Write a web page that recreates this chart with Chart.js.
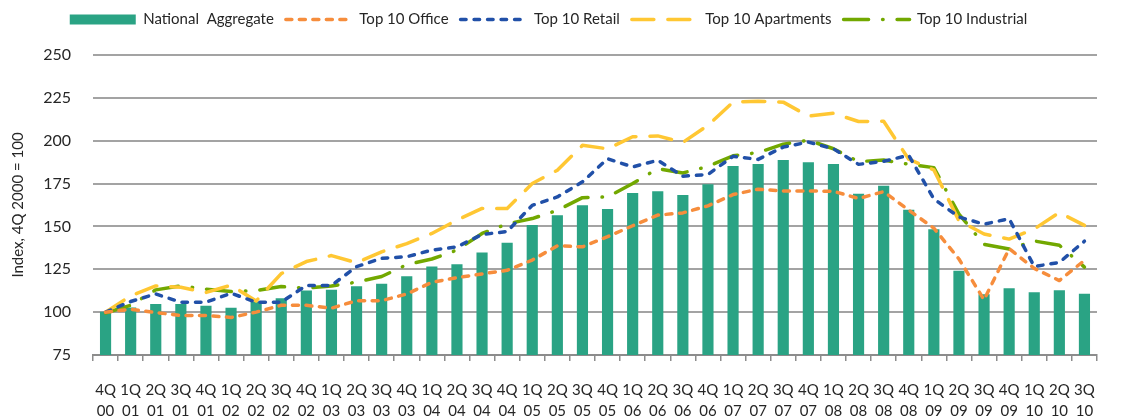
<!DOCTYPE html>
<html>
<head>
<meta charset="utf-8">
<script src="https://cdn.jsdelivr.net/npm/chart.js@4.4.0/dist/chart.umd.min.js"></script>
<style>
  html, body { margin: 0; padding: 0; background: #fff; }
</style>
</head>
<body>
<canvas id="chart" width="1128" height="420"></canvas>
<script>
// quarters, 4Q 2000 .. 3Q 2010
var quarterLabels = [
    ['4Q', '00'],
    ['1Q', '01'], ['2Q', '01'], ['3Q', '01'], ['4Q', '01'],
    ['1Q', '02'], ['2Q', '02'], ['3Q', '02'], ['4Q', '02'],
    ['1Q', '03'], ['2Q', '03'], ['3Q', '03'], ['4Q', '03'],
    ['1Q', '04'], ['2Q', '04'], ['3Q', '04'], ['4Q', '04'],
    ['1Q', '05'], ['2Q', '05'], ['3Q', '05'], ['4Q', '05'],
    ['1Q', '06'], ['2Q', '06'], ['3Q', '06'], ['4Q', '06'],
    ['1Q', '07'], ['2Q', '07'], ['3Q', '07'], ['4Q', '07'],
    ['1Q', '08'], ['2Q', '08'], ['3Q', '08'], ['4Q', '08'],
    ['1Q', '09'], ['2Q', '09'], ['3Q', '09'], ['4Q', '09'],
    ['1Q', '10'], ['2Q', '10'], ['3Q', '10']
];

var nationalAggregate = [100, 102.5, 104.6, 104.6, 103.5, 102.3, 106, 107.9, 112.5, 112.8,
    114.9, 116.3, 120.7, 126.5, 127.7, 134.6, 140.3, 150.6, 156.4, 162.2,
    160, 169.3, 170.4, 168.1, 174.4, 185.1, 186.2, 188.5, 187.3, 186.2,
    168.9, 173.6, 159.6, 148.1, 124, 110.2, 113.7, 111.4, 112.6, 110.5];

var top10Office = [100, 101.7, 99.8, 98, 98, 96.9, 100, 104, 104, 102.3,
    106.7, 106.7, 110.6, 117.4, 120.1, 122.3, 124.4, 130.4, 138.7, 138.1,
    144, 150.4, 156.6, 157.9, 162, 168.6, 171.7, 170.7, 170.7, 170.5,
    166.3, 170.3, 159.5, 149, 131, 107.2, 137, 125.5, 118.4, 130.2];

var top10Retail = [100, 106.2, 110.6, 105.8, 105.8, 111, 105.8, 105.8, 115.6, 115.6,
    126.5, 131.4, 132.3, 136.2, 138.1, 145.3, 147, 162.3, 167.2, 176,
    189.5, 184.7, 188.6, 179.3, 180.3, 190.9, 189.1, 196.3, 199.2, 195.3,
    186.2, 188, 191.5, 166, 155.5, 151.3, 154.5, 126.6, 129, 141.4];

var top10Apartments = [100, 109.5, 115.3, 114.5, 111.5, 115.7, 106.5, 122.5, 129.5, 133,
    128.8, 135.2, 140, 145.9, 153.7, 160.5, 160.5, 175, 182.8, 197.3,
    195.3, 202.3, 202.8, 199, 209, 222.5, 223, 222.5, 214.4, 216,
    211.2, 211.4, 189.2, 183, 153.3, 145.6, 142.6, 148.5, 158.1, 150.6];

var top10Industrial = [99.5, 104, 113, 115.3, 113.4, 112, 112.6, 114.9, 114, 115.3,
    117.5, 120.8, 127.7, 131, 136.2, 145.9, 151.5, 154.6, 159.4, 166.8,
    167.2, 175, 183.7, 181.2, 185, 191.2, 193.1, 198, 200.3, 195.3,
    187.8, 188.7, 186.3, 184.3, 157.2, 139.5, 136.8, 141.5, 139, 126.3];

var yTicks = [75, 100, 125, 150, 175, 200, 225, 250];

var fontFamily = 'Lato, "DejaVu Sans", sans-serif';
var textColor = '#262626';
var gridColor = '#a3a3a3';

// room between the legend and the plot
var legendGap = {
    id: 'legendGap',
    beforeInit: function (chart) {
        var fit = chart.legend.fit;
        chart.legend.fit = function () {
            fit.bind(chart.legend)();
            this.height += 18;
        };
    }
};

function lineSet(label, data, color, dash) {
    return {
        type: 'line',
        label: label,
        data: data,
        borderColor: color,
        backgroundColor: color,
        borderWidth: 3.5,
        borderDash: dash,
        borderCapStyle: 'round',
        borderJoinStyle: 'round',
        pointRadius: 0,
        tension: 0,
        fill: false,
        order: 0
    };
}

// legend entries: a filled box for the bars, dashed strokes for the lines
function legendLabels(chart) {
    return chart.data.datasets.map(function (ds, i) {
        var isLine = ds.type === 'line';
        return {
            text: ds.label,
            datasetIndex: i,
            hidden: false,
            pointStyle: isLine ? 'line' : 'rect',
            fillStyle: ds.backgroundColor,
            strokeStyle: ds.borderColor || ds.backgroundColor,
            lineWidth: isLine ? ds.borderWidth : 0,
            lineDash: isLine ? ds.borderDash : [],
            lineCap: 'round',
            fontColor: textColor
        };
    });
}

var ctx = document.getElementById('chart').getContext('2d');
new Chart(ctx, {
    type: 'bar',
    data: {
        labels: quarterLabels,
        datasets: [{
            label: 'National  Aggregate',
            data: nationalAggregate,
            backgroundColor: '#2aa384',
            borderWidth: 0,
            barThickness: 10.5,
            order: 1
        },
            lineSet('Top 10 Office', top10Office, '#f68d3c', [6, 7.5]),
            lineSet('Top 10 Retail', top10Retail, '#2150a8', [5.5, 8]),
            lineSet('Top 10 Apartments', top10Apartments, '#ffc733', [22, 14]),
            lineSet('Top 10 Industrial', top10Industrial, '#72a800', [25, 14, 0.5, 14])
        ]
    },
    options: {
        responsive: false,
        animation: false,
        layout: {padding: {left: 0, right: 31, top: 0, bottom: 0}},
        plugins: {
            tooltip: {enabled: false},
            legend: {
                position: 'top',
                labels: {
                    usePointStyle: true,
                    pointStyleWidth: 66,
                    boxHeight: 10,
                    padding: 12,
                    color: textColor,
                    font: {family: fontFamily, size: 15},
                    generateLabels: legendLabels
                }
            }
        },
        scales: {
            x: {
                offset: true,
                grid: {
                    offset: true,
                    drawOnChartArea: false,
                    drawTicks: true,
                    tickLength: 6,
                    color: '#8c8c8c',
                    lineWidth: 1.5
                },
                border: {display: true, color: '#8c8c8c', width: 2},
                ticks: {
                    autoSkip: false,
                    maxRotation: 0,
                    minRotation: 0,
                    padding: 19,
                    color: textColor,
                    font: {family: fontFamily, size: 15, lineHeight: 1.4}
                },
                afterFit: function (scale) { scale.height = 65; }
            },
            y: {
                min: 75,
                max: 250,
                afterBuildTicks: function (scale) {
                    scale.ticks = yTicks.map(function (v) { return {value: v}; });
                },
                grid: {color: gridColor, lineWidth: 2, drawTicks: false},
                border: {display: false},
                ticks: {
                    padding: 22,
                    color: textColor,
                    font: {family: fontFamily, size: 16}
                },
                title: {
                    display: true,
                    text: 'Index, 4Q 2000 = 100',
                    color: textColor,
                    font: {family: fontFamily, size: 15},
                    padding: {top: 9, bottom: 0}
                },
                afterFit: function (scale) { scale.width = 93; }
            }
        }
    },
    plugins: [legendGap]
});
</script>
</body>
</html>
